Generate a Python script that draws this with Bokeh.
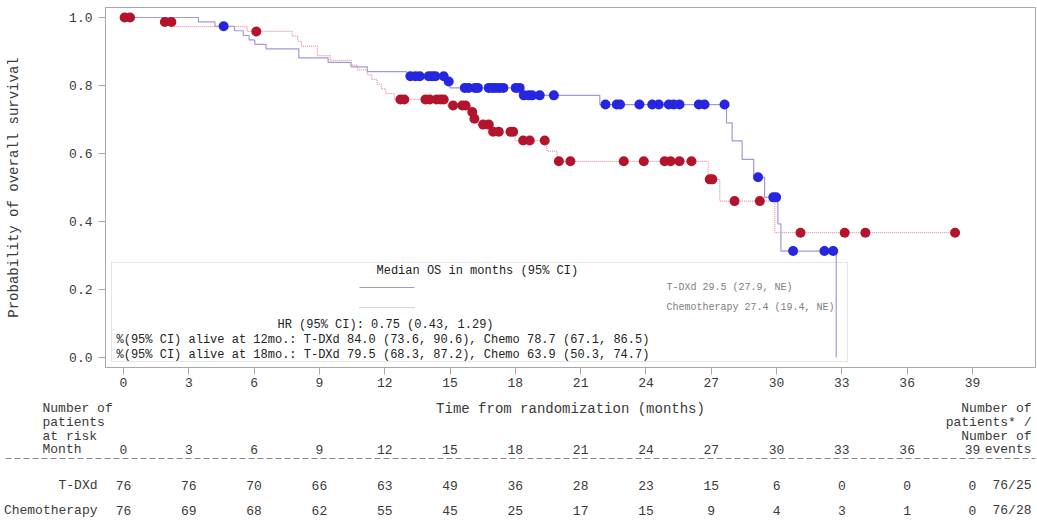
import numpy as np
from bokeh.plotting import figure
from bokeh.models import Range1d, FixedTicker, PrintfTickFormatter, BoxAnnotation
from bokeh.core.properties import value
from bokeh.embed import file_html
from bokeh.resources import INLINE

FONT = "Liberation Mono"

# ---------------- data ----------------
tdxd_times = [0, 3.44, 4.2, 5.1, 5.5, 5.77, 6.03, 6.55, 8.05, 9.4, 10.45, 11.2, 13.0,
              14.8, 15.0, 18.28, 21.88, 27.7, 27.96, 28.42, 28.95, 29.45, 30.06, 30.2, 32.74]
tdxd_surv = [1.0, 0.987, 0.974, 0.961, 0.947, 0.934, 0.921, 0.908, 0.881, 0.868, 0.855, 0.841, 0.827,
             0.812, 0.793, 0.771, 0.744, 0.690, 0.637, 0.583, 0.530, 0.471, 0.393, 0.313, 0.0]
tdxd_censor = [4.6, 13.18, 13.41, 13.61, 14.02, 14.18, 14.33, 14.71, 14.94,
               15.68, 15.85, 16.15, 16.28, 16.78, 16.95, 17.1, 17.27, 17.45, 18.02, 18.2,
               18.39, 18.62, 18.77, 19.12, 19.77,
               22.14, 22.66, 22.81, 23.70, 24.29, 24.59, 25.05, 25.28, 25.54, 26.43, 26.69, 27.61,
               29.15, 29.85, 29.98, 30.76, 32.2, 32.6]

chemo_times = [0, 1.75, 2.3, 5.68, 7.75, 8.0, 8.18, 8.9, 9.5, 10.46, 10.75, 11.2, 11.4, 11.65,
               11.85, 12.05, 12.45, 14.85, 15.95, 16.08, 16.25, 16.88, 18.0, 19.45, 19.92,
               26.86, 27.39, 29.92]
chemo_surv = [1.0, 0.987, 0.973, 0.959, 0.945, 0.930, 0.916, 0.888, 0.874, 0.860, 0.846, 0.832,
              0.818, 0.804, 0.790, 0.776, 0.759, 0.741, 0.722, 0.702, 0.685, 0.664, 0.638, 0.607,
              0.577, 0.524, 0.460, 0.367]
chemo_censor = [0.05, 0.3, 1.9, 2.2, 6.1, 12.72, 12.9, 13.87, 14.07, 14.38, 14.56, 14.71,
                15.14, 15.56, 15.71, 16.02, 16.12, 16.52, 16.78, 16.98, 17.24, 17.78, 17.9,
                18.36, 18.66, 19.35, 20.0, 20.53, 22.98, 23.9, 24.86, 25.13, 25.54, 26.09,
                26.93, 27.05, 28.07, 29.23, 31.1, 33.13, 34.08, 38.2]

month_ticks = [0, 3, 6, 9, 12, 15, 18, 21, 24, 27, 30, 33, 36, 39]
surv_ticks = [0.0, 0.2, 0.4, 0.6, 0.8, 1.0]
risk_tdxd = [76, 76, 70, 66, 63, 49, 36, 28, 23, 15, 6, 0, 0, 0]
risk_chemo = [76, 69, 68, 62, 55, 45, 25, 17, 15, 9, 4, 3, 1, 0]
totals = ["76/25", "76/28"]
arm_names = ["T-DXd", "Chemotherapy"]
median_texts = ["T-DXd 29.5 (27.9, NE)", "Chemotherapy  27.4 (19.4, NE)"]
stat_texts = ["HR (95% CI): 0.75 (0.43, 1.29)",
              "%(95% CI) alive at 12mo.: T-DXd 84.0 (73.6, 90.6), Chemo 78.7 (67.1, 86.5)",
              "%(95% CI) alive at 18mo.: T-DXd 79.5 (68.3, 87.2), Chemo 63.9 (50.3, 74.7)"]
left_header = ["Number of", "patients", "at risk", "Month"]
right_header = ["Number of", "patients* /", "Number of", "events"]
x_title = "Time from randomization (months)"
y_title = "Probability of overall survival"

BLUE_LINE = "#a497d8"
RED_LINE = "#e393a0"
BLUE_DOT = "#2626e0"
RED_DOT = "#b3142c"
TXT = "#3a3a3a"
AX = "#a8a8a8"

# ---------------- geometry ----------------
W, H = 1037, 520
H1 = 395
H2 = H - H1
FL, FR, FT, FB = 105, 1035, 7, 367
X0, X1 = -0.827, 41.895
Y0, Y1 = -0.0294, 1.0294


def px_x(px):
    return X0 + (px - FL) / (FR - FL) * (X1 - X0)


def px_y(py):
    return Y1 - (py - FT) / (FB - FT) * (Y1 - Y0)


def surv_at(times, surv, t):
    idx = np.searchsorted(np.array(times), np.array(t), side="right") - 1
    return list(np.array(surv)[idx])


p = figure(width=W, height=H1, x_range=Range1d(X0, X1), y_range=Range1d(Y0, Y1),
           output_backend="svg", toolbar_location=None,
           min_border_left=FL, min_border_right=W - FR, min_border_top=FT,
           min_border_bottom=H1 - FB)
p.grid.visible = False
p.outline_line_color = AX
p.background_fill_color = "white"
p.border_fill_color = "white"

p.xaxis.ticker = FixedTicker(ticks=month_ticks)
p.yaxis.ticker = FixedTicker(ticks=surv_ticks)
p.yaxis.formatter = PrintfTickFormatter(format="%.1f")
for ax in (p.xaxis, p.yaxis):
    ax.axis_line_color = AX
    ax.major_tick_line_color = AX
    ax.major_tick_in = 0
    ax.major_tick_out = 7
    ax.minor_tick_line_color = None
    ax.major_label_text_font = FONT
    ax.major_label_text_font_size = "13px"
    ax.major_label_text_color = TXT
    ax.axis_label_text_font = FONT
    ax.axis_label_text_font_size = "14px"
    ax.axis_label_text_font_style = "normal"
    ax.axis_label_text_color = TXT
p.xaxis.major_label_standoff = 3
p.yaxis.major_label_standoff = 6
p.yaxis.axis_label = y_title
p.yaxis.axis_label_standoff = 44

# step curves (chemo line extends to last follow-up)
c_end = max(chemo_censor)
p.step(tdxd_times, tdxd_surv, mode="after", line_color=BLUE_LINE, line_width=1.2)
p.step(chemo_times + [c_end], chemo_surv + [chemo_surv[-1]], mode="after",
       line_color=RED_LINE, line_width=1.2, line_dash="1 1")

p.scatter(tdxd_censor, surv_at(tdxd_times, tdxd_surv, tdxd_censor), size=10,
          fill_color=BLUE_DOT, line_color=None)
p.scatter(chemo_censor, surv_at(chemo_times, chemo_surv, chemo_censor), size=10,
          fill_color=RED_DOT, line_color=None)

# inset legend box
p.add_layout(BoxAnnotation(left=px_x(111), right=px_x(847), top=px_y(262), bottom=px_y(361),
                           fill_color=None, line_color=AX, line_width=1))
p.text(x=[px_x(376)], y=[px_y(270.5)], text=["Median OS in months (95% CI)"],
       text_font=value(FONT), text_font_size="12px", text_color="#222222",
       text_align="left", text_baseline="middle")
p.segment(x0=[px_x(359)], x1=[px_x(414)], y0=[px_y(287)], y1=[px_y(287)],
          line_color=BLUE_LINE, line_width=1.2)
p.segment(x0=[px_x(359)], x1=[px_x(414)], y0=[px_y(307)], y1=[px_y(307)],
          line_color=RED_LINE, line_width=1.2, line_dash="1 1")
p.text(x=[px_x(666), px_x(666)], y=[px_y(287), px_y(307)], text=median_texts,
       text_font=value(FONT), text_font_size="10px", text_color="#808080",
       text_align="left", text_baseline="middle")
p.text(x=[px_x(277), px_x(116), px_x(116)], y=[px_y(324.5), px_y(339.5), px_y(354)],
       text=stat_texts, text_font=value(FONT), text_font_size="12px", text_color="#222222",
       text_align="left", text_baseline="middle")

# ---------------- risk table: second root, frame spans the full width ----------------
q = figure(width=W, height=H2, x_range=Range1d(px_x(0), px_x(W)), y_range=Range1d(H2, 0),
           output_backend="svg", toolbar_location=None,
           x_axis_type=None, y_axis_type=None,
           min_border_left=0, min_border_right=0, min_border_top=0, min_border_bottom=0)
q.grid.visible = False
q.outline_line_color = None
q.background_fill_color = "white"
q.border_fill_color = "white"


def ty(py):
    return py - H1


common = dict(text_font=value(FONT), text_font_size="13px", text_color=TXT, text_baseline="middle")
hdr_y = [ty(v) for v in (408, 422, 436, 449)]

q.text(x=[(X0 + X1) / 2], y=[ty(408)], text=[x_title], text_align="center",
       **{**common, "text_font_size": "14px"})
q.text(x=[px_x(42)] * 4, y=hdr_y, text=left_header, text_align="left", **common)
q.text(x=[px_x(1031)] * 4, y=hdr_y, text=right_header, text_align="right", **common)
q.text(x=month_ticks, y=[ty(449)] * len(month_ticks), text=[str(m) for m in month_ticks],
       text_align="center", **common)
q.segment(x0=[px_x(5)], x1=[px_x(1035)], y0=[ty(458)], y1=[ty(458)],
          line_color="#888888", line_width=1, line_dash="6 3")
q.text(x=[px_x(97)] * 2, y=[ty(485), ty(510)], text=arm_names, text_align="right", **common)
q.text(x=month_ticks, y=[ty(485)] * len(month_ticks), text=[str(v) for v in risk_tdxd],
       text_align="center", **common)
q.text(x=month_ticks, y=[ty(510)] * len(month_ticks), text=[str(v) for v in risk_chemo],
       text_align="center", **common)
q.text(x=[px_x(1031)] * 2, y=[ty(485), ty(510)], text=totals, text_align="right", **common)

open("out.html", "w").write(file_html([p, q], INLINE))
